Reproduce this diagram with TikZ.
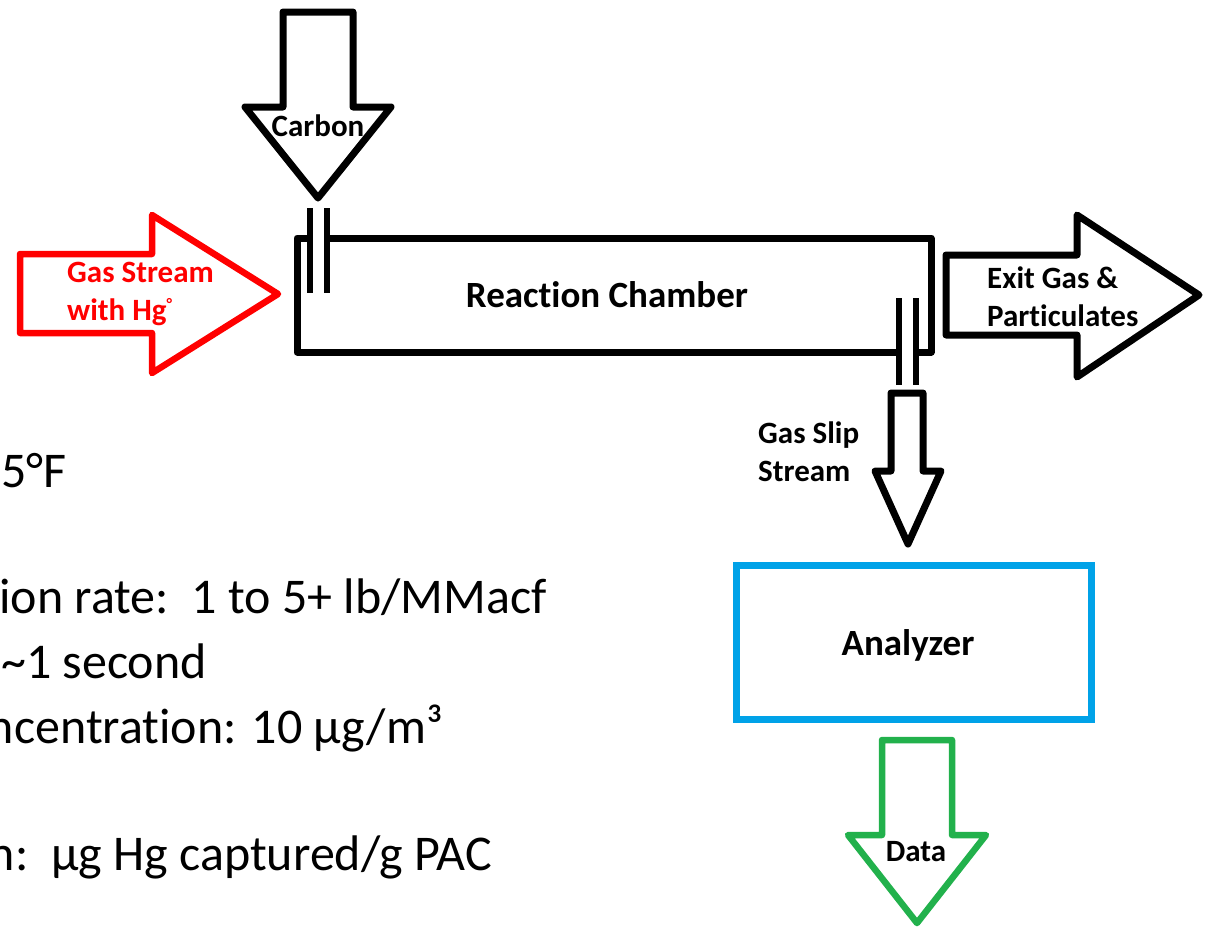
\documentclass[tikz,border=0pt]{standalone}
\usepackage{fontspec}
\setmainfont{Carlito}[Ligatures={NoCommon}]
\definecolor{boxblue}{HTML}{00A2E8}
\definecolor{datagreen}{HTML}{22B14C}
\begin{document}
\begin{tikzpicture}[x=1pt,y=-1pt,
  blk/.style={draw=black,line width=7pt,line join=round},
  redarrow/.style={draw=red,line width=6.5pt,line join=round},
  greenarrow/.style={draw=datagreen,line width=6.5pt,line join=round},
  pipe/.style={draw=black,line width=6pt},
  lbl/.style={font=\bfseries\fontsize{31}{38}\selectfont,inner sep=0pt,align=left},
  big/.style={font=\bfseries\fontsize{37}{44}\selectfont,inner sep=0pt},
  note/.style={font=\fontsize{50}{58}\selectfont,inner sep=0pt,anchor=base east},
  box/.style={draw=boxblue,line width=7pt,minimum width=355pt,minimum height=154pt,inner sep=0pt}]
\useasboundingbox (0,0) rectangle (1215,932);
\clip (0,0) rectangle (1215,932);

% Carbon inlet arrow
\draw[blk] (283,12) -- (353,12) -- (353,107) -- (391,107) -- (318,198) -- (245,107) -- (283,107) -- cycle;
\node[lbl] (carbon) at (318,126) {Carbon};

% carbon inlet pipes
\draw[pipe] (310,208) -- (310,293);
\draw[pipe] (327,208) -- (327,293);

% reaction chamber
\draw[blk] (310,238) -- (297,238) -- (297,352) -- (899,352);
\draw[blk] (916,352) -- (931,352) -- (931,238) -- (327,238);
\node[big] (chamber) at (607,295) {Reaction Chamber};

% gas stream arrow
\draw[redarrow] (20,254) -- (152,254) -- (152,215) -- (278,294) -- (152,373) -- (152,333) -- (20,333) -- cycle;
\node[lbl,text=red,anchor=west] (gas) at (67,294) {Gas Stream\\with Hg\raisebox{11pt}{\fontsize{16}{16}\selectfont°}};

% exit arrow
\draw[blk] (946,255) -- (1077,255) -- (1077,215) -- (1199,295) -- (1077,377) -- (1077,335) -- (946,335) -- cycle;
\node[lbl,anchor=west] (exit) at (987,297) {Exit Gas \&\\Particulates};

% slip stream pipes and arrow
\draw[pipe] (899,298) -- (899,385);
\draw[pipe] (916,298) -- (916,385);
\draw[blk] (891,393) -- (923,393) -- (923,471) -- (941,471) -- (908,544) -- (875,471) -- (891,471) -- cycle;
\node[lbl,anchor=west] (slip) at (758,452) {Gas Slip\\Stream};

% analyzer
\node[box] (analyzer) at (913.5,642) {};
\node[big] (analyzertxt) at (908,645) {Analyzer};

% data arrow
\draw[greenarrow] (882,740) -- (952,740) -- (952,835) -- (986,835) -- (917,923) -- (848,835) -- (882,835) -- cycle;
\node[lbl] (data) at (916,852) {Data};

% notes on the left
\node[note] (t1) at (67,487) {5°F};
\node[note] (t2) at (547,613) {ion rate:\ \ 1 to 5+ lb/MMacf};
\node[note] (t3) at (207,678) {\textasciitilde1 second};
\node[note] (t4) at (443,743) {ncentration: 10 µg/m³};
\node[note] (t5) at (492,870) {n:\ \ µg Hg captured/g PAC};
\end{tikzpicture}
\end{document}
